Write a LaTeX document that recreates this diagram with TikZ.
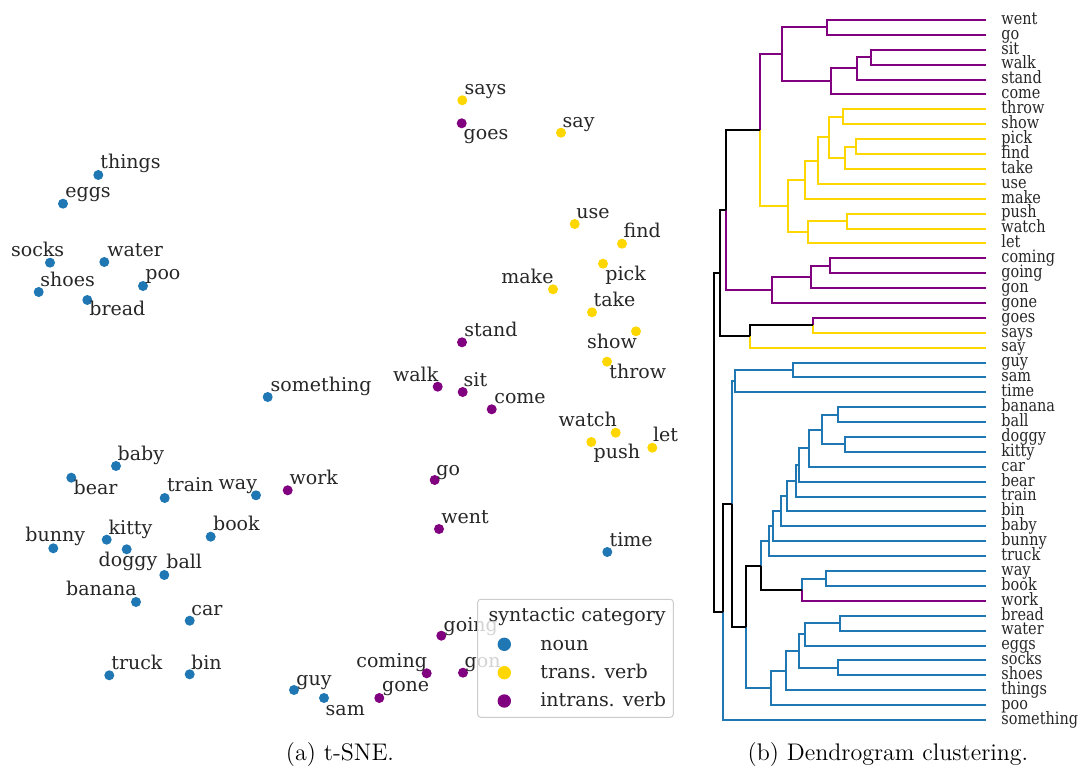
\documentclass[tikz,border=0pt]{standalone}
\usepackage{fontspec}
\newfontfamily\plotfont{DejaVu Serif}
\newfontfamily\dendfont[FakeStretch=0.85]{DejaVu Serif}
\definecolor{noun}{HTML}{1F77B4}
\definecolor{trans}{HTML}{FFD700}
\definecolor{intrans}{HTML}{800080}
\definecolor{ink}{HTML}{262626}
\definecolor{frame}{HTML}{CCCCCC}

\begin{document}
\begin{tikzpicture}[x=0.5pt,y=-0.5pt,
  dot/.style={circle,inner sep=0pt,minimum size=5pt},
  keydot/.style={circle,inner sep=0pt,minimum size=6.7pt},
  lbl/.style={anchor=base west,inner sep=0pt,text=ink,font=\plotfont\fontsize{9.5}{11}\selectfont},
  leaf/.style={anchor=mid west,inner sep=0pt,text=ink,font=\dendfont\fontsize{8.5}{9}\selectfont},
  link/.style={line width=1pt},
  caption/.style={anchor=base,inner sep=0pt,font=\fontsize{12}{14}\selectfont}]
  \useasboundingbox (0,0) rectangle (1082,770);

  % (a) t-SNE scatter
  \foreach \w/\px/\py/\lx/\ly in {things/98.3/175/100/169, eggs/63/203.7/65/198,
      socks/50/262.7/10.7/256.7, water/104.3/262/107/256.7, shoes/38.7/292/40/286.7,
      poo/143/286/145/280, bread/87.3/300/89/316, baby/116/466/117.3/460.7,
      bear/71.3/477.7/73.3/494, train/164.7/498/166.7/491.7, way/256/495.3/218.3/489.3,
      kitty/106.7/539.7/108.3/534, bunny/53.3/548.3/25/541.7, doggy/126.7/549.3/98.3/566,
      book/210.7/536.7/212.7/530, ball/164.3/575/166/568.3, banana/136/602/65.7/595.7,
      car/189.7/620.7/191/615, truck/109.3/675.3/111/669.3, bin/189.7/674.3/190.7/669,
      something/267.7/397/270.3/391.7, guy/294/690/296/685.7, sam/324/698/325.3/715,
      time/607.3/552/609.3/546}{
    \node[dot,fill=noun] (p-\w) at (\px,\py) {};
    \node[lbl] (l-\w) at (\lx,\ly) {\w};
  }
  \foreach \w/\px/\py/\lx/\ly in {goes/461.7/123.3/463.3/140, stand/462/342.3/464/336,
      walk/437.7/386.7/392.7/381.3, sit/462.7/392/463.3/386.3, come/491.7/409.3/494/403.3,
      work/287.7/490.3/289.3/484.3, go/434.7/480/436/475, went/439/529/441/523.3,
      going/441.3/635.7/443.3/631.7, coming/426.7/673.3/356/667.7, gon/463/672.7/464.3/667.7,
      gone/379.3/698/381.7/691.7}{
    \node[dot,fill=intrans] (p-\w) at (\px,\py) {};
    \node[lbl] (l-\w) at (\lx,\ly) {\w};
  }
  \foreach \w/\px/\py/\lx/\ly in {says/462.3/100.3/464.3/94.3, say/561/132.7/562.3/127.7,
      use/574.7/224/576/218.3, find/622/243.7/623.3/237.7, pick/603/263.7/605/280.7,
      make/553/289.3/501/283.3, take/592/312.3/593.3/306.7, show/636/331.3/586.7/348.3,
      throw/607/361.7/609/378.3, watch/615.7/432.7/558.3/426.7, push/591.3/442/593.3/458.3,
      let/652.3/447.7/652.7/441.7}{
    \node[dot,fill=trans] (p-\w) at (\px,\py) {};
    \node[lbl] (l-\w) at (\lx,\ly) {\w};
  }

  % legend
  \node[draw=frame,line width=0.5pt,fill=white,fill opacity=0.8,rounded corners=1.5pt,
    minimum width=97.8pt,minimum height=59pt,inner sep=0pt] (key) at (575.5,658.3) {};
  \node[lbl] (key-title) at (488.3,621.7) {syntactic category};
  \foreach \c/\t/\y in {noun/noun/644.3, trans/trans. verb/672.7, intrans/intrans. verb/701}{
    \node[keydot,fill=\c] (k-\c) at (504.3,\y) {};
    \node[lbl] (kl-\c) at (540,\y+5.7) {\t};
  }

  % (b) dendrogram leaves
  \foreach \w [count=\i from 0] in {went,go,sit,walk,stand,come,throw,show,pick,find,take,
      use,make,push,watch,let,coming,going,gon,gone,goes,says,say,guy,sam,time,banana,
      ball,doggy,kitty,car,bear,train,bin,baby,bunny,truck,way,book,work,bread,water,
      eggs,socks,shoes,things,poo,something}{
    \coordinate (d-\w) at (986,20+\i*14.8936);
    \node[leaf] (n-\w) at (1001,20+\i*14.8936) {\w};
  }

  % merge points
  \coordinate (m-wg) at (826.7,27.45);
  \coordinate (m-sw) at (871,57.25);
  \coordinate (m-sws) at (857,68.4);
  \coordinate (m-swsc) at (830.7,81.45);
  \coordinate (m-p1) at (782,54.45);
  \coordinate (m-ts) at (842.7,116.85);
  \coordinate (m-pf) at (856.3,146.6);
  \coordinate (m-pft) at (845,157.75);
  \coordinate (m-y4) at (829.3,137.3);
  \coordinate (m-y5) at (817.7,160.55);
  \coordinate (m-y6) at (805,179.6);
  \coordinate (m-pw) at (846.7,221.05);
  \coordinate (m-pwl) at (807.7,232.2);
  \coordinate (m-y) at (788.3,205.9);
  \coordinate (m-py) at (760.3,130.2);
  \coordinate (m-cg) at (830,265.75);
  \coordinate (m-cgg) at (811.3,276.9);
  \coordinate (m-p2) at (771.7,289.95);
  \coordinate (m-v1) at (726.3,210.1);
  \coordinate (m-gs) at (813.3,325.35);
  \coordinate (m-gss) at (750,336.5);
  \coordinate (m-v) at (720,273.3);
  \coordinate (m-gsm) at (793.3,370);
  \coordinate (m-b1) at (734.7,381.15);
  \coordinate (m-bb) at (838,414.65);
  \coordinate (m-dk) at (844.7,444.45);
  \coordinate (m-b4) at (822.3,429.55);
  \coordinate (m-car) at (809,448.2);
  \coordinate (m-bear) at (798.7,464.95);
  \coordinate (m-train) at (796,480.8);
  \coordinate (m-bin) at (786.7,496.15);
  \coordinate (m-baby) at (781,511.3);
  \coordinate (m-bunny) at (772.7,526.3);
  \coordinate (m-truck) at (769.3,541.25);
  \coordinate (m-wb) at (826,578.55);
  \coordinate (m-wbw) at (801.7,589.7);
  \coordinate (m-B) at (761,565.5);
  \coordinate (m-bw) at (840,623.15);
  \coordinate (m-bwe) at (805,634.3);
  \coordinate (m-ss) at (837.7,667.85);
  \coordinate (m-b5) at (799,651.1);
  \coordinate (m-things) at (785.7,670.65);
  \coordinate (m-poo) at (771,687.9);
  \coordinate (m-A) at (746,626.7);
  \coordinate (m-C) at (732,503.9);
  \coordinate (m-D) at (723.3,611.95);
  \coordinate (m-root) at (714,442.6);

  % links
  \draw[link,intrans] (d-went) -| (m-wg) (d-go) -| (m-wg)
    (d-sit) -| (m-sw) (d-walk) -| (m-sw) (m-sw) -| (m-sws) (d-stand) -| (m-sws)
    (m-sws) -| (m-swsc) (d-come) -| (m-swsc) (m-wg) -| (m-p1) (m-swsc) -| (m-p1)
    (m-p1) -| (m-py)
    (d-coming) -| (m-cg) (d-going) -| (m-cg) (m-cg) -| (m-cgg) (d-gon) -| (m-cgg)
    (m-cgg) -| (m-p2) (d-gone) -| (m-p2) (m-p2) -| (m-v1)
    (d-goes) -| (m-gs) (d-work) -| (m-wbw);
  \draw[link,trans] (d-throw) -| (m-ts) (d-show) -| (m-ts)
    (d-pick) -| (m-pf) (d-find) -| (m-pf) (m-pf) -| (m-pft) (d-take) -| (m-pft)
    (m-ts) -| (m-y4) (m-pft) -| (m-y4) (m-y4) -| (m-y5) (d-use) -| (m-y5)
    (m-y5) -| (m-y6) (d-make) -| (m-y6)
    (d-push) -| (m-pw) (d-watch) -| (m-pw) (m-pw) -| (m-pwl) (d-let) -| (m-pwl)
    (m-y6) -| (m-y) (m-pwl) -| (m-y) (m-y) -| (m-py)
    (d-says) -| (m-gs) (d-say) -| (m-gss);
  \draw[link,noun] (d-guy) -| (m-gsm) (d-sam) -| (m-gsm) (m-gsm) -| (m-b1)
    (d-time) -| (m-b1) (m-b1) -| (m-C)
    (d-banana) -| (m-bb) (d-ball) -| (m-bb) (d-doggy) -| (m-dk) (d-kitty) -| (m-dk)
    (m-bb) -| (m-b4) (m-dk) -| (m-b4) (m-b4) -| (m-car) (d-car) -| (m-car)
    (m-car) -| (m-bear) (d-bear) -| (m-bear) (m-bear) -| (m-train) (d-train) -| (m-train)
    (m-train) -| (m-bin) (d-bin) -| (m-bin) (m-bin) -| (m-baby) (d-baby) -| (m-baby)
    (m-baby) -| (m-bunny) (d-bunny) -| (m-bunny) (m-bunny) -| (m-truck)
    (d-truck) -| (m-truck) (m-truck) -| (m-B)
    (d-way) -| (m-wb) (d-book) -| (m-wb) (m-wb) -| (m-wbw)
    (d-bread) -| (m-bw) (d-water) -| (m-bw) (m-bw) -| (m-bwe) (d-eggs) -| (m-bwe)
    (d-socks) -| (m-ss) (d-shoes) -| (m-ss) (m-bwe) -| (m-b5) (m-ss) -| (m-b5)
    (m-b5) -| (m-things) (d-things) -| (m-things) (m-things) -| (m-poo)
    (d-poo) -| (m-poo) (m-poo) -| (m-A)
    (d-something) -| (m-D);
  \draw[link,black] (m-py) -| (m-v1) (m-v1) -| (m-v) (m-gs) -| (m-gss) (m-gss) -| (m-v)
    (m-v) -| (m-root) (m-D) -| (m-root) (m-C) -| (m-D) (m-A) -| (m-C)
    (m-B) -| (m-A) (m-wbw) -| (m-B);

  % captions
  \node[caption] (cap-a) at (340,760) {(a) t-SNE.};
  \node[caption] (cap-b) at (888,760) {(b) Dendrogram clustering.};
\end{tikzpicture}
\end{document}
